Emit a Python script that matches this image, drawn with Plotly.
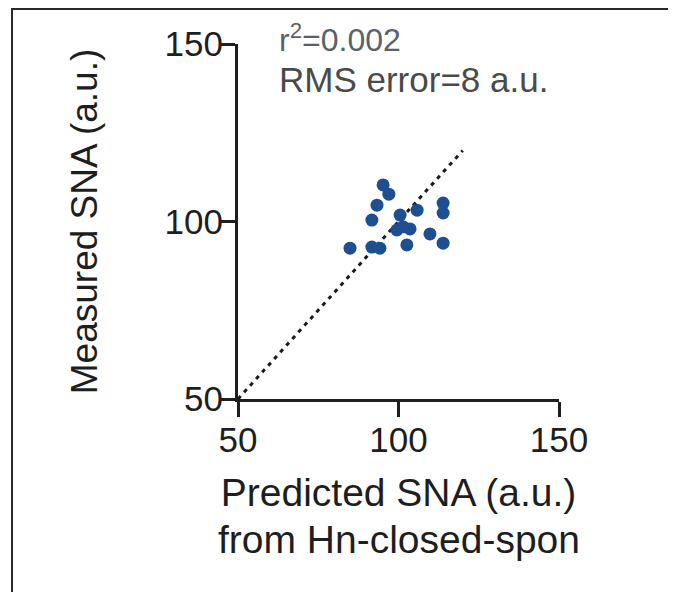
import plotly.graph_objects as go

# Data
predicted = [95.2, 97.0, 93.3, 91.7, 100.5, 105.8, 113.9, 113.9, 99.5, 101.4,
             103.6, 109.8, 113.9, 102.6, 91.7, 94.2, 84.9]
measured = [110.3, 107.7, 104.6, 100.4, 101.8, 103.2, 105.2, 102.4, 97.6, 98.5,
            97.9, 96.5, 93.9, 93.4, 92.8, 92.5, 92.5]
identity_line = [50, 120]
tick_vals = [50, 100, 150]
tick_text = ["50", "100", "150"]
x_title_lines = ["Predicted SNA (a.u.)", "from Hn-closed-spon"]
y_title = "Measured SNA (a.u.)"
stats_text = ["r<sup>2</sup>=0.002", "RMS error=8 a.u."]

FONT = "Liberation Sans, Arial, sans-serif"
INK = "#1e1e1e"

fig = go.Figure()
fig.add_trace(go.Scatter(
    x=identity_line, y=identity_line, mode="lines",
    line=dict(color="#1a1a1a", width=3, dash="4px,5px"),
    hoverinfo="skip", showlegend=False,
))
fig.add_trace(go.Scatter(
    x=predicted, y=measured, mode="markers",
    marker=dict(color="#1d4f91", size=13, line=dict(width=0)),
    showlegend=False,
))

axis_common = dict(
    range=[50, 150], tickvals=tick_vals, ticktext=tick_text,
    showgrid=False, zeroline=False, showline=True, linewidth=3, linecolor=INK,
    ticks="outside", ticklen=15, tickwidth=3, tickcolor=INK,
    tickfont=dict(family=FONT, size=35, color=INK),
)

# plot area: 321 x 355 px (page has an 8px body margin)
fig.update_layout(
    width=668, height=584, autosize=False,
    margin=dict(l=230, r=117, t=36, b=193),
    paper_bgcolor="white", plot_bgcolor="white",
    xaxis=dict(**axis_common, ticklabelstandoff=-7,
               title=dict(text=x_title_lines[0], font=dict(family=FONT, size=39, color=INK), standoff=21)),
    yaxis=dict(**axis_common, ticklabelstandoff=-10,
               title=dict(text=y_title, font=dict(family=FONT, size=37, color=INK), standoff=56)),
)
fig.update_xaxes(automargin=False)
fig.update_yaxes(automargin=False)

fig.add_annotation(text=x_title_lines[1], xref="paper", yref="paper", x=0.5, y=-0.397,
                   xanchor="center", yanchor="middle", showarrow=False,
                   font=dict(family=FONT, size=39, color=INK))

fig.add_annotation(text=stats_text[0], xref="paper", yref="paper", x=0.1215, y=1.017,
                   xanchor="left", yanchor="middle", showarrow=False,
                   font=dict(family=FONT, size=32, color="#5a6168"))
fig.add_annotation(text=stats_text[1], xref="paper", yref="paper", x=0.1215, y=0.90,
                   xanchor="left", yanchor="middle", showarrow=False,
                   font=dict(family=FONT, size=35, color="#4a4a4a"))

# Outer frame around the panel
fig.add_shape(type="rect", xref="paper", yref="paper",
              x0=-0.704, x1=1.355, y0=-0.6, y1=1.0986,
              line=dict(color="#2a2a2a", width=2), layer="below")

fig.write_html("out.html")
